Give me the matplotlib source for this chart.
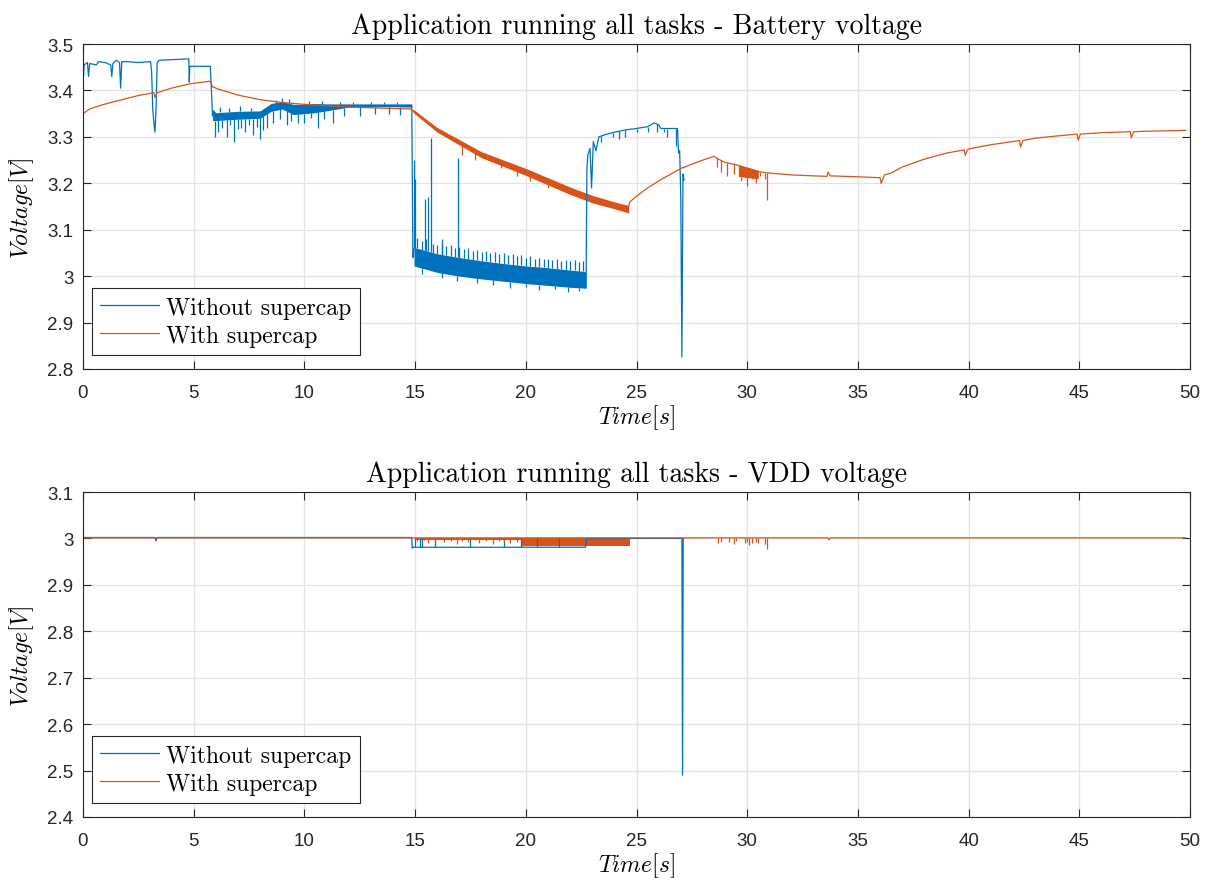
import numpy as np
import matplotlib
matplotlib.use("Agg")
import matplotlib.pyplot as plt

# ---------------- data ----------------
# Top panel: battery voltage, without supercap (blue)
bat_blue_t = [0.0, 0.05, 0.2, 0.25, 0.3, 0.6, 0.7, 1.0, 1.25, 1.3, 1.35, 1.5, 1.65, 1.7, 1.75, 2.0,
              2.5, 3.05, 3.1, 3.15, 3.2, 3.25, 3.3, 3.35, 3.45, 4.78, 4.8, 4.82, 4.85, 5.75, 5.8, 5.85]
bat_blue_v = [3.41, 3.455, 3.46, 3.43, 3.458, 3.455, 3.462, 3.46, 3.455, 3.43, 3.458, 3.465, 3.46, 3.405, 3.462, 3.462,
              3.46, 3.462, 3.44, 3.36, 3.33, 3.31, 3.36, 3.46, 3.465, 3.468, 3.418, 3.45, 3.452, 3.452, 3.40, 3.345]
# noisy plateau 5.8 s .. 14.85 s (core lower / upper envelope)
bat_blue_band1_t = [5.85, 6.0, 7.0, 8.0, 8.5, 9.0, 9.5, 10.0, 10.5, 11.0, 12.0, 13.0, 14.0, 14.85]
bat_blue_band1_lo = [3.335, 3.335, 3.338, 3.34, 3.355, 3.36, 3.348, 3.35, 3.352, 3.356, 3.364, 3.365, 3.365, 3.364]
bat_blue_band1_hi = [3.36, 3.352, 3.355, 3.356, 3.372, 3.376, 3.37, 3.37, 3.372, 3.371, 3.371, 3.371, 3.371, 3.371]
bat_blue_spk1_t = [5.95, 6.1, 6.3, 6.5, 6.65, 6.8, 7.0, 7.15, 7.3, 7.5, 7.7, 7.85, 8.0, 8.15, 8.3, 8.6, 8.9,
                   9.2, 9.4, 9.7, 10.0, 10.3, 10.6, 10.9, 11.3, 11.8, 12.5, 13.2, 13.8, 14.3]
bat_blue_spk1_v = [3.30, 3.31, 3.32, 3.30, 3.325, 3.29, 3.318, 3.32, 3.31, 3.325, 3.305, 3.322, 3.295, 3.315,
                   3.32, 3.33, 3.338, 3.325, 3.335, 3.33, 3.33, 3.34, 3.32, 3.338, 3.33, 3.345, 3.345, 3.35,
                   3.35, 3.348]
bat_blue_upk1_t = [6.2, 6.6, 7.1, 7.6, 8.7, 9.0, 9.3, 10.2, 10.8, 11.6, 12.2, 13.0, 13.6, 14.2]
bat_blue_upk1_v = [3.365, 3.362, 3.366, 3.362, 3.38, 3.383, 3.381, 3.378, 3.377, 3.376, 3.376, 3.376, 3.375, 3.376]
# drop at 14.9 s, noisy low band until 22.7 s
bat_blue_drop_t = [14.85, 14.9, 14.95]
bat_blue_drop_v = [3.365, 3.04, 3.06]
bat_blue_core_t = [14.95, 16.0, 17.0, 18.0, 19.0, 20.0, 21.0, 22.0, 22.72]
bat_blue_core_lo = [3.022, 3.008, 3.0, 2.994, 2.989, 2.984, 2.98, 2.976, 2.974]
bat_blue_core_hi = [3.062, 3.048, 3.04, 3.033, 3.027, 3.022, 3.018, 3.013, 3.01]
bat_blue_teeth_t = [15.1, 15.3, 15.5, 15.8, 16.0, 16.2, 16.4, 16.6, 16.8, 17.0, 17.2, 17.4, 17.6, 17.8, 18.0,
                    18.2, 18.4, 18.6, 18.8, 19.0, 19.2, 19.4, 19.6, 19.8, 20.0, 20.2, 20.4, 20.6, 20.8, 21.0,
                    21.2, 21.4, 21.6, 21.8, 22.0, 22.2, 22.4, 22.6]
bat_blue_teeth_v = [3.082, 3.075, 3.08, 3.07, 3.068, 3.072, 3.065, 3.068, 3.06, 3.062, 3.058, 3.06, 3.055, 3.057, 3.052,
                    3.055, 3.05, 3.052, 3.047, 3.05, 3.045, 3.047, 3.043, 3.045, 3.04, 3.043, 3.038, 3.04, 3.036, 3.038,
                    3.035, 3.037, 3.033, 3.035, 3.032, 3.034, 3.031, 3.033]
bat_blue_up_t = [14.97, 15.0, 15.45, 15.6, 15.7, 16.2, 16.95]
bat_blue_up_v = [3.25, 3.21, 3.167, 3.17, 3.297, 3.08, 3.254]
bat_blue_dn_t = [15.3, 16.2, 16.9, 17.8, 18.5, 19.3, 20.0, 20.6, 21.3, 21.9, 22.4]
bat_blue_dn_v = [3.005, 2.995, 2.99, 2.985, 2.98, 2.975, 2.977, 2.97, 2.972, 2.965, 2.968]
# recovery 22.75 s .. end of record 27.15 s
bat_blue_rec_t = [22.72, 22.76, 22.8, 22.9, 22.97, 23.05, 23.17, 23.3, 23.6, 24.0, 24.5, 25.0, 25.5, 25.8,
                  26.0, 26.1, 26.5, 26.85, 26.9, 26.95, 27.0, 27.05, 27.1, 27.15]
bat_blue_rec_v = [2.975, 3.23, 3.26, 3.275, 3.19, 3.29, 3.27, 3.30, 3.305, 3.31, 3.315, 3.318, 3.322, 3.33,
                  3.326, 3.318, 3.318, 3.318, 3.265, 3.27, 3.17, 2.826, 3.22, 3.207]
bat_blue_rec_spk_t = [23.4, 23.95, 24.2, 24.48, 25.0, 25.5, 25.94, 26.24, 26.4, 26.8]
bat_blue_rec_spk_v = [3.29, 3.30, 3.295, 3.30, 3.31, 3.31, 3.31, 3.31, 3.30, 3.28]

# Top panel: battery voltage, with supercap (orange)
bat_or_t = [0.0, 0.3, 0.8, 1.5, 2.5, 3.2, 3.25, 3.35, 4.0, 4.8, 5.75, 5.85, 6.1, 7.0, 8.0, 9.0, 10.0, 12.0,
            14.8, 15.2, 16.0, 17.0, 18.0, 19.0, 20.0, 21.0, 22.0, 23.0, 24.0, 24.6, 24.7, 25.0, 25.5, 26.0,
            27.0, 28.0, 28.5, 28.7, 29.0, 29.5, 30.0, 30.5, 31.0, 32.0, 33.0, 33.6, 33.65, 33.75, 35.0, 36.0,
            36.05, 36.2, 36.5, 37.0, 38.0, 39.0, 39.8, 39.85, 39.95, 40.0, 41.0, 42.0, 42.3, 42.35, 42.45,
            43.0, 44.0, 44.9, 44.95, 45.05, 46.0, 47.3, 47.35, 47.45, 48.0, 49.8]
bat_or_v = [3.35, 3.36, 3.368, 3.377, 3.389, 3.395, 3.385, 3.395, 3.405, 3.414, 3.42, 3.408, 3.403, 3.39, 3.38,
            3.374, 3.37, 3.364, 3.36, 3.345, 3.315, 3.285, 3.262, 3.245, 3.225, 3.205, 3.183, 3.165, 3.152,
            3.142, 3.16, 3.172, 3.19, 3.205, 3.232, 3.25, 3.258, 3.252, 3.245, 3.24, 3.232, 3.225, 3.222,
            3.218, 3.216, 3.215, 3.224, 3.216, 3.214, 3.212, 3.2, 3.218, 3.222, 3.235, 3.252, 3.265, 3.272,
            3.26, 3.272, 3.274, 3.283, 3.29, 3.292, 3.278, 3.292, 3.297, 3.302, 3.306, 3.293, 3.306, 3.309,
            3.311, 3.298, 3.311, 3.312, 3.314]
bat_or_band_t = [14.9, 16.0, 18.0, 20.0, 22.0, 23.0, 24.0, 24.65]
bat_or_band_lo = [3.353, 3.31, 3.255, 3.217, 3.176, 3.158, 3.145, 3.136]
bat_or_band_hi = [3.36, 3.32, 3.268, 3.232, 3.192, 3.174, 3.16, 3.152]
bat_or_spk_t = [17.1, 17.7, 18.9, 19.6, 20.2, 21.0, 28.65, 28.8, 29.1, 29.4, 29.7, 29.9, 30.0, 30.2, 30.4,
                30.6, 30.8, 30.9]
bat_or_spk_v = [3.26, 3.25, 3.232, 3.215, 3.205, 3.19, 3.235, 3.225, 3.215, 3.22, 3.205, 3.225, 3.195, 3.21,
                3.20, 3.215, 3.21, 3.165]
bat_or_band2_t = [29.6, 30.0, 30.5]
bat_or_band2_lo = [3.215, 3.212, 3.21]
bat_or_band2_hi = [3.24, 3.235, 3.228]

# Bottom panel: VDD voltage, without supercap (blue)
vdd_blue_t = [0.0, 3.25, 3.3, 3.35, 14.85, 14.87, 14.9, 22.7, 22.75, 27.05, 27.08, 27.11, 27.13]
vdd_blue_v = [3.002, 3.002, 2.995, 3.002, 3.002, 2.979, 2.981, 2.981, 3.0, 3.0, 2.49, 3.0, 3.0]
vdd_blue_vl_t = [15.0, 15.2, 15.3, 15.9, 17.5, 19.0, 19.8, 20.5, 21.5]

# Bottom panel: VDD voltage, with supercap (orange)
vdd_or_t = [0.0, 33.65, 33.7, 33.75, 49.8]
vdd_or_v = [3.0012, 3.0012, 2.997, 3.0012, 3.0012]
vdd_or_band_t = [19.8, 24.7]
vdd_or_band_lo = [2.983, 2.983]
vdd_or_band_hi = [3.001, 3.001]
vdd_or_spk_t = [15.1, 15.4, 15.6, 15.9, 16.3, 16.6, 16.9, 17.1, 17.4, 17.7, 17.9, 18.2, 18.5, 18.8, 19.0,
                19.3, 19.6, 28.7, 28.8, 29.2, 29.4, 29.5, 29.9, 30.0, 30.1, 30.2, 30.4, 30.5, 30.8, 30.9]
vdd_or_spk_v = [2.995, 2.996, 2.99, 2.996, 2.993, 2.995, 2.987, 2.995, 2.992, 2.996, 2.99, 2.995, 2.987,
                2.994, 2.992, 2.99, 2.993, 2.99, 2.993, 2.992, 2.988, 2.994, 2.99, 2.992, 2.985, 2.99,
                2.993, 2.99, 2.988, 2.978]
vdd_or_fill_t = [15.0, 19.8]
vdd_or_fill_lo = [2.996, 2.996]
vdd_or_fill_hi = [3.001, 3.001]

x_ticks = [0, 5, 10, 15, 20, 25, 30, 35, 40, 45, 50]
bat_y_ticks = [2.8, 2.9, 3.0, 3.1, 3.2, 3.3, 3.4, 3.5]
bat_y_labels = ["2.8", "2.9", "3", "3.1", "3.2", "3.3", "3.4", "3.5"]
vdd_y_ticks = [2.4, 2.5, 2.6, 2.7, 2.8, 2.9, 3.0, 3.1]
vdd_y_labels = ["2.4", "2.5", "2.6", "2.7", "2.8", "2.9", "3", "3.1"]

titles = ["Application running all tasks - Battery voltage",
          "Application running all tasks - VDD voltage"]
legend_labels = ["Without supercap", "With supercap"]

# ---------------- style ----------------
BLUE = "#0072BD"
ORANGE = "#D95319"
AXC = "#262626"
LW = 0.9

plt.rcParams["mathtext.fontset"] = "cm"
plt.rcParams["font.family"] = ["Liberation Sans", "DejaVu Sans"]

fig = plt.figure(figsize=(12.09, 8.79), dpi=100)
ax1 = fig.add_axes([83 / 1209, 1 - 370 / 879, 1107 / 1209, 325 / 879])
ax2 = fig.add_axes([83 / 1209, 1 - 818 / 879, 1107 / 1209, 325 / 879])


def style_axes(ax, yticks, ylabels, ylim, title):
    ax.set_xlim(0, 50)
    ax.set_ylim(*ylim)
    ax.set_xticks(x_ticks)
    ax.set_xticklabels([str(x) for x in x_ticks])
    ax.set_yticks(yticks)
    ax.set_yticklabels(ylabels)
    ax.grid(True, color="#e3e3e3", linewidth=0.9)
    ax.set_axisbelow(True)
    ax.tick_params(direction="in", length=6, width=0.8, colors=AXC, labelsize=13.5,
                   top=True, right=True)
    ax.tick_params(axis="x", pad=11)
    ax.tick_params(axis="y", pad=7)
    for s in ax.spines.values():
        s.set_color(AXC)
        s.set_linewidth(0.8)
    ax.set_title(title, fontfamily="cmr10", fontsize=20, color="black", pad=8)
    ax.set_xlabel(r"$Time[s]$", fontsize=17, labelpad=1)
    ax.set_ylabel(r"$Voltage[V]$", fontsize=17, labelpad=8)


# ---- top panel ----
ax1.plot(bat_blue_t, bat_blue_v, color=BLUE, lw=LW, label=legend_labels[0])
ax1.fill_between(bat_blue_band1_t, bat_blue_band1_lo, bat_blue_band1_hi, color=BLUE, lw=0)
ax1.vlines(bat_blue_spk1_t, np.interp(bat_blue_spk1_t, bat_blue_band1_t, bat_blue_band1_lo),
           bat_blue_spk1_v, color=BLUE, lw=LW)
ax1.vlines(bat_blue_upk1_t, np.interp(bat_blue_upk1_t, bat_blue_band1_t, bat_blue_band1_hi),
           bat_blue_upk1_v, color=BLUE, lw=LW)
ax1.plot(bat_blue_drop_t, bat_blue_drop_v, color=BLUE, lw=LW)
ax1.fill_between(bat_blue_core_t, bat_blue_core_lo, bat_blue_core_hi, color=BLUE, lw=0)
ax1.vlines(bat_blue_teeth_t, np.interp(bat_blue_teeth_t, bat_blue_core_t, bat_blue_core_hi),
           bat_blue_teeth_v, color=BLUE, lw=LW)
ax1.vlines(bat_blue_up_t, np.interp(bat_blue_up_t, bat_blue_core_t, bat_blue_core_hi),
           bat_blue_up_v, color=BLUE, lw=LW)
ax1.vlines(bat_blue_dn_t, np.interp(bat_blue_dn_t, bat_blue_core_t, bat_blue_core_lo),
           bat_blue_dn_v, color=BLUE, lw=LW)
ax1.plot(bat_blue_rec_t, bat_blue_rec_v, color=BLUE, lw=LW)
ax1.vlines(bat_blue_rec_spk_t, np.interp(bat_blue_rec_spk_t, bat_blue_rec_t, bat_blue_rec_v),
           bat_blue_rec_spk_v, color=BLUE, lw=LW)

ax1.plot(bat_or_t, bat_or_v, color=ORANGE, lw=LW, label=legend_labels[1])
ax1.fill_between(bat_or_band_t, bat_or_band_lo, bat_or_band_hi, color=ORANGE, lw=0)
ax1.fill_between(bat_or_band2_t, bat_or_band2_lo, bat_or_band2_hi, color=ORANGE, lw=0)
ax1.vlines(bat_or_spk_t, np.interp(bat_or_spk_t, bat_or_t, bat_or_v), bat_or_spk_v,
           color=ORANGE, lw=LW)

style_axes(ax1, bat_y_ticks, bat_y_labels, (2.8, 3.5), titles[0])

# ---- bottom panel ----
ax2.plot(vdd_blue_t, vdd_blue_v, color=BLUE, lw=LW, label=legend_labels[0])
ax2.vlines(vdd_blue_vl_t, [2.981] * len(vdd_blue_vl_t), [3.0] * len(vdd_blue_vl_t), color=BLUE, lw=LW)
ax2.plot(vdd_or_t, vdd_or_v, color=ORANGE, lw=LW, label=legend_labels[1])
ax2.fill_between(vdd_or_band_t, vdd_or_band_lo, vdd_or_band_hi, color=ORANGE, lw=0)
ax2.fill_between(vdd_or_fill_t, vdd_or_fill_lo, vdd_or_fill_hi, color=ORANGE, lw=0)
ax2.vlines(vdd_or_spk_t, [3.0012] * len(vdd_or_spk_t), vdd_or_spk_v, color=ORANGE, lw=LW)

style_axes(ax2, vdd_y_ticks, vdd_y_labels, (2.4, 3.1), titles[1])

for ax in (ax1, ax2):
    leg = ax.legend(loc="lower left", bbox_to_anchor=(0.008, 0.043), borderaxespad=0,
                    prop={"family": "cmr10", "size": 17}, fancybox=False, framealpha=1,
                    edgecolor=AXC, handlelength=2.5, handletextpad=0.3, borderpad=0.35,
                    labelspacing=0.25)
    leg.get_frame().set_linewidth(0.8)

fig.savefig("out.png", dpi=100, facecolor="white")
